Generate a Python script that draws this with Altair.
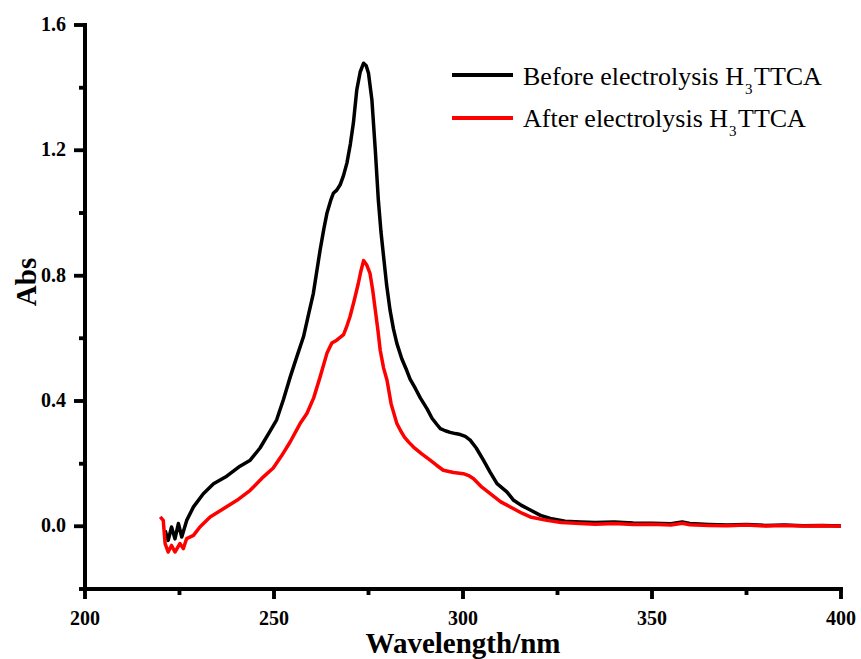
import altair as alt
import pandas as pd

# ---- data ----
black_wl = [221.2, 222.0, 222.9, 223.8, 224.7, 225.6, 226.9, 228.7, 231.3, 234.0,
            237.5, 241.0, 243.7, 246.3, 249.0, 250.7, 252.5, 254.3, 256.0, 257.8,
            259.2, 260.4, 262.2, 263.2, 264.0, 265.0, 265.7, 266.6, 267.5, 268.4,
            269.3, 270.2, 271.0, 271.9, 272.8, 273.7, 274.4, 275.0, 275.9, 276.8,
            277.6, 278.3, 279.0, 279.8, 280.7, 281.6, 282.5, 283.8, 285.1, 286.0,
            287.4, 288.7, 290.5, 291.8, 293.1, 294.0, 295.3, 296.6, 298.0, 299.3,
            300.6, 301.9, 303.5, 305.4, 307.2, 309.0, 311.6, 313.4, 315.6, 317.8,
            320.5, 323.1, 327.0, 331.0, 335.0, 340.0, 345.0, 350.0, 355.0, 358.0,
            360.0, 365.0, 370.0, 375.0, 380.0, 385.0, 390.0, 395.0, 400.0]
black_abs = [-0.013, -0.045, -0.002, -0.040, 0.009, -0.034, 0.019, 0.062, 0.104, 0.136,
             0.160, 0.192, 0.211, 0.250, 0.305, 0.340, 0.405, 0.477, 0.540, 0.605,
             0.680, 0.743, 0.882, 0.950, 0.999, 1.040, 1.063, 1.073, 1.090, 1.120,
             1.160, 1.220, 1.287, 1.393, 1.450, 1.478, 1.470, 1.446, 1.361, 1.201,
             1.042, 0.940, 0.860, 0.770, 0.690, 0.630, 0.584, 0.535, 0.498, 0.470,
             0.440, 0.410, 0.375, 0.345, 0.325, 0.312, 0.305, 0.300, 0.296, 0.293,
             0.287, 0.275, 0.250, 0.211, 0.172, 0.136, 0.110, 0.083, 0.066, 0.052,
             0.035, 0.025, 0.016, 0.014, 0.012, 0.014, 0.011, 0.010, 0.008, 0.014,
             0.009, 0.006, 0.004, 0.006, 0.003, 0.004, 0.002, 0.003, 0.001]

red_wl = [219.9, 220.7, 221.2, 222.0, 222.9, 223.8, 225.1, 226.0, 226.9, 228.7,
          230.4, 233.1, 236.6, 240.2, 243.7, 247.2, 249.8, 252.0, 254.3, 256.9,
          258.7, 260.5, 262.2, 264.0, 265.3, 266.6, 268.4, 269.3, 270.1, 271.2,
          272.3, 273.0, 273.7, 274.5, 275.4, 276.1, 276.8, 277.5, 278.1, 279.0,
          279.9, 281.0, 282.5, 283.5, 284.5, 285.7, 286.9, 289.0, 291.3, 293.0,
          294.8, 297.5, 300.1, 301.5, 302.8, 305.0, 307.2, 310.0, 313.4, 315.6,
          317.8, 322.2, 326.0, 331.0, 335.0, 340.0, 345.0, 350.0, 355.0, 358.0,
          360.0, 365.0, 370.0, 375.0, 380.0, 385.0, 390.0, 395.0, 400.0]
red_abs = [0.030, 0.019, -0.055, -0.082, -0.061, -0.082, -0.055, -0.071, -0.039, -0.029,
           -0.002, 0.030, 0.056, 0.083, 0.115, 0.158, 0.186, 0.225, 0.270, 0.328,
           0.360, 0.410, 0.477, 0.552, 0.585, 0.594, 0.612, 0.640, 0.669, 0.720,
           0.775, 0.815, 0.848, 0.835, 0.807, 0.755, 0.690, 0.625, 0.562, 0.505,
           0.466, 0.390, 0.328, 0.305, 0.285, 0.268, 0.253, 0.232, 0.211, 0.195,
           0.179, 0.172, 0.168, 0.162, 0.152, 0.125, 0.104, 0.078, 0.056, 0.042,
           0.030, 0.019, 0.012, 0.009, 0.007, 0.009, 0.006, 0.007, 0.004, 0.010,
           0.005, 0.003, 0.002, 0.004, 0.001, 0.003, 0.001, 0.002, 0.000]

legend_main = ["Before electrolysis H", "After electrolysis H"]
legend_sub = "3"
legend_tail = "TTCA"
x_title = "Wavelength/nm"
y_title = "Abs"

x_domain = [200, 400]
y_domain = [-0.2, 1.6]
major_x = [200, 250, 300, 350, 400]
minor_x = [225, 275, 325, 375]
major_y = [0.0, 0.4, 0.8, 1.2, 1.6]
minor_y = [-0.2, 0.2, 0.6, 1.0, 1.4]

# ---- layout (pixels) ----
FW, FH = 861, 659
PL, PR, PT, PB = 85, 841, 25, 589        # plot-area edges
FONT = "Liberation Serif"
BLACK, RED = "#000000", "#ff0000"

xs = alt.Scale(domain=x_domain, range=[PL, PR], nice=False, zero=False)
ys = alt.Scale(domain=y_domain, range=[PB, PT], nice=False, zero=False)

black_df = pd.DataFrame({"wl": black_wl, "abs": black_abs})
red_df = pd.DataFrame({"wl": red_wl, "abs": red_abs})

def X(f):
    return alt.X(f, scale=xs, axis=None)

def Y(f):
    return alt.Y(f, scale=ys, axis=None)

# native axes used only for the major tick marks, moved onto the plot edges
tick_x_axis = alt.Axis(values=major_x, labels=False, domain=False, grid=False, title=None,
                       ticks=True, tickSize=10, tickWidth=3.5, tickColor=BLACK, tickOpacity=1,
                       orient="bottom", offset=PB - FH)
tick_y_axis = alt.Axis(values=major_y, labels=False, domain=False, grid=False, title=None,
                       ticks=True, tickSize=11, tickWidth=3.5, tickColor=BLACK, tickOpacity=1,
                       orient="left", offset=-PL)

black_line = alt.Chart(black_df).mark_line(strokeWidth=3.5, color=BLACK, strokeJoin="round").encode(
    x=alt.X("wl:Q", scale=xs, axis=tick_x_axis), y=alt.Y("abs:Q", scale=ys, axis=tick_y_axis))
red_line = alt.Chart(red_df).mark_line(strokeWidth=3.5, color=RED, strokeJoin="round").encode(
    x=X("wl:Q"), y=Y("abs:Q"))

# ---- axes drawn as marks ----
frame_df = pd.DataFrame({"x0": [x_domain[0]], "x1": [x_domain[1]], "y0": [y_domain[0]], "y1": [y_domain[1]]})
x_axis_line = alt.Chart(frame_df).mark_rule(strokeWidth=4, color=BLACK, strokeCap="square").encode(
    x=X("x0:Q"), x2="x1:Q", y=Y("y0:Q"))
y_axis_line = alt.Chart(frame_df).mark_rule(strokeWidth=4, color=BLACK, strokeCap="square").encode(
    x=X("x0:Q"), y=Y("y0:Q"), y2="y1:Q")

maj_x_df = pd.DataFrame({"xv": major_x})
min_x_df = pd.DataFrame({"xv": minor_x})
maj_y_df = pd.DataFrame({"yv": major_y})
min_y_df = pd.DataFrame({"yv": minor_y})

maj_x_ticks = alt.Chart(maj_x_df).mark_rule(strokeWidth=3.5, color=BLACK).encode(
    x=X("xv:Q"), y=alt.value(PB), y2=alt.value(PB + 10))
min_x_ticks = alt.Chart(min_x_df).mark_rule(strokeWidth=3.5, color=BLACK).encode(
    x=X("xv:Q"), y=alt.value(PB), y2=alt.value(PB + 6))
maj_y_ticks = alt.Chart(maj_y_df).mark_rule(strokeWidth=3.5, color=BLACK).encode(
    y=Y("yv:Q"), x=alt.value(PL - 11), x2=alt.value(PL))
min_y_ticks = alt.Chart(min_y_df).mark_rule(strokeWidth=3.5, color=BLACK).encode(
    y=Y("yv:Q"), x=alt.value(PL - 6), x2=alt.value(PL))

# the same ticks again as filled tick marks
maj_x_ticks2 = alt.Chart(maj_x_df).mark_tick(orient="vertical", size=10, thickness=3.5,
                                             color=BLACK, opacity=1).encode(
    x=X("xv:Q"), y=alt.value(PB + 5))
min_x_ticks2 = alt.Chart(min_x_df).mark_tick(orient="vertical", size=6, thickness=3.5,
                                             color=BLACK, opacity=1).encode(
    x=X("xv:Q"), y=alt.value(PB + 3))
maj_y_ticks2 = alt.Chart(maj_y_df).mark_tick(orient="horizontal", size=11, thickness=3.5,
                                             color=BLACK, opacity=1).encode(
    y=Y("yv:Q"), x=alt.value(PL - 5.5))
min_y_ticks2 = alt.Chart(min_y_df).mark_tick(orient="horizontal", size=6, thickness=3.5,
                                             color=BLACK, opacity=1).encode(
    y=Y("yv:Q"), x=alt.value(PL - 3))

x_labels = alt.Chart(pd.DataFrame({"v": major_x, "t": [str(v) for v in major_x]})).mark_text(
    font=FONT, fontWeight="bold", fontSize=20, align="center", baseline="alphabetic", color=BLACK).encode(
    x=X("v:Q"), y=alt.value(625), text="t:N")
y_labels = alt.Chart(pd.DataFrame({"w": major_y, "t": [f"{v:.1f}" for v in major_y]})).mark_text(
    font=FONT, fontWeight="bold", fontSize=20, align="right", baseline="middle", color=BLACK).encode(
    y=Y("w:Q"), x=alt.value(66), text="t:N")

x_title_mark = alt.Chart(pd.DataFrame({"t": [x_title]})).mark_text(
    font=FONT, fontWeight="bold", fontSize=29, align="center", baseline="alphabetic", color=BLACK).encode(
    x=alt.value((PL + PR) / 2), y=alt.value(653), text="t:N")
y_title_mark = alt.Chart(pd.DataFrame({"t": [y_title]})).mark_text(
    font=FONT, fontWeight="bold", fontSize=29, align="center", baseline="alphabetic", angle=270,
    color=BLACK).encode(x=alt.value(36), y=alt.value(282), text="t:N")

# ---- legend (drawn by hand for the subscript) ----
legend_layers = []
row_y = [75, 118]
text_y = [85, 127]
colors = [BLACK, RED]
widths = [221, 205]
TX = 523
for i in range(2):
    d = pd.DataFrame({"label": [legend_main[i]], "sub": [legend_sub], "tail": [legend_tail]})
    base = alt.Chart(d)
    legend_layers.append(base.mark_rule(strokeWidth=4, color=colors[i]).encode(
        x=alt.value(452), x2=alt.value(513), y=alt.value(row_y[i])))
    legend_layers.append(base.mark_text(align="left", baseline="alphabetic", font=FONT,
                                        fontSize=26, color=BLACK).encode(
        x=alt.value(TX), y=alt.value(text_y[i]), text="label:N"))
    legend_layers.append(base.mark_text(align="left", baseline="alphabetic", font=FONT,
                                        fontSize=15, color=BLACK).encode(
        x=alt.value(TX + widths[i] + 1), y=alt.value(text_y[i] + 9), text="sub:N"))
    legend_layers.append(base.mark_text(align="left", baseline="alphabetic", font=FONT,
                                        fontSize=26, color=BLACK).encode(
        x=alt.value(TX + widths[i] + 10), y=alt.value(text_y[i]), text="tail:N"))

chart = alt.layer(
    black_line, red_line,
    x_axis_line, y_axis_line,
    maj_x_ticks, min_x_ticks, maj_y_ticks, min_y_ticks,
    maj_x_ticks2, min_x_ticks2, maj_y_ticks2, min_y_ticks2,
    x_labels, y_labels, x_title_mark, y_title_mark,
    *legend_layers,
).properties(
    width=FW, height=FH,
    autosize=alt.AutoSizeParams(type="none"),
    padding=0,
    background="white",
).configure_view(stroke=None)

chart.save("out.html", embed_options={"renderer": "svg", "actions": False})
